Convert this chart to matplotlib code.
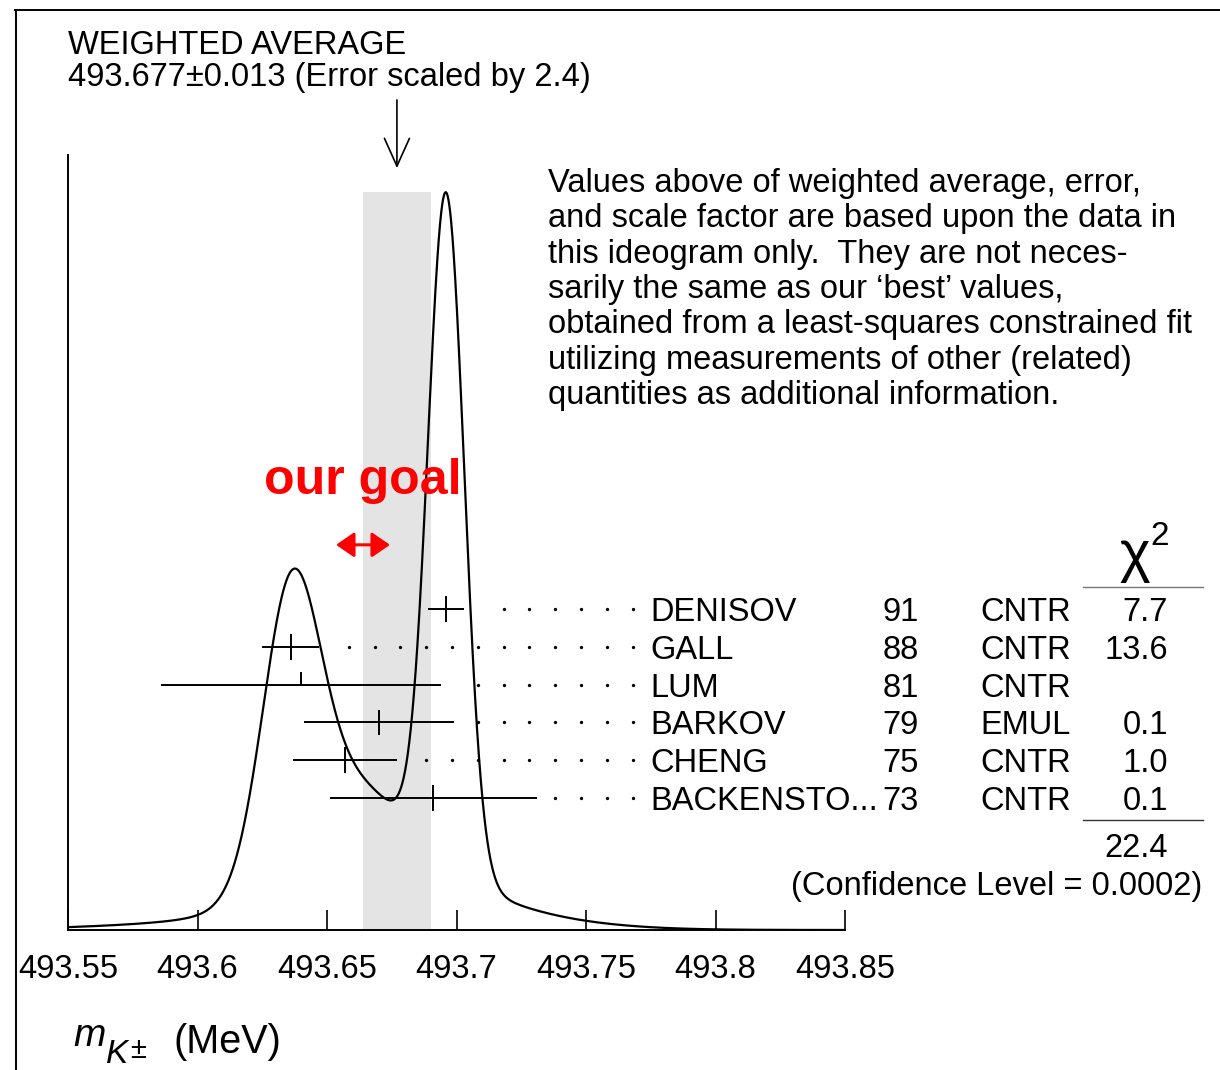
import numpy as np
import matplotlib
matplotlib.use('Agg')
import matplotlib.pyplot as plt
import matplotlib.transforms as mtransforms
from matplotlib.lines import Line2D

plt.rcParams['font.family'] = ['Liberation Sans', 'DejaVu Sans']

# measurements of the charged kaon mass (MeV)
names = ['DENISOV', 'GALL', 'LUM', 'BARKOV', 'CHENG', 'BACKENSTO...']
years = ['91', '88', '81', '79', '75', '73']
methods = ['CNTR', 'CNTR', 'CNTR', 'EMUL', 'CNTR', 'CNTR']
values = np.array([493.696, 493.636, 493.640, 493.670, 493.657, 493.691])
errors = np.array([0.007, 0.011, 0.054, 0.029, 0.020, 0.040])
chi2 = ['7.7', '13.6', '', '0.1', '1.0', '0.1']
used = [True, True, False, True, True, True]

avg, avg_err, scale = 493.677, 0.013, 2.4
chi2_total = '22.4'
conf_level = '0.0002'
goal = (493.6535, 493.6743)

xticks = [493.55, 493.6, 493.65, 493.7, 493.75, 493.8, 493.85]
xticklabels = ['493.55', '493.6', '493.65', '493.7', '493.75', '493.8', '493.85']

note = ["Values above of weighted average, error,",
        "and scale factor are based upon the data in",
        "this ideogram only.  They are not neces-",
        "sarily the same as our \u2018best\u2019 values,",
        "obtained from a least-squares constrained fit",
        "utilizing measurements of other (related)",
        "quantities as additional information."]

W, H = 1220, 1070
FS = 23.5


def fx(px):
    return px / W


def fy(py):
    return 1 - py / H


fig = plt.figure(figsize=(W / 100, H / 100), dpi=100)
ax = fig.add_axes([fx(68), fy(930), (845 - 68) / W, (930 - 155) / H])

# ideogram: each measurement a gaussian of area 1/sigma
x = np.linspace(493.55, 493.85, 3000)
ideo = np.zeros_like(x)
for v, e in zip(values, errors):
    ideo += np.exp(-0.5 * ((x - v) / e) ** 2) / (e * e * np.sqrt(2 * np.pi))

ax.fill_between([avg - avg_err, avg + avg_err], 0, ideo.max(),
                color='#e4e4e4', lw=0, zorder=0)
ax.plot(x, ideo, color='k', lw=1.6, zorder=3)
ax.set_xlim(493.55, 493.85)
ax.set_ylim(0, ideo.max() / 0.952)
ax.set_yticks([])
ax.set_xticks(xticks)
ax.set_xticklabels(xticklabels, fontsize=FS)
ax.tick_params(axis='x', direction='in', length=14.5, width=1.2, pad=17)
for s in ['top', 'right']:
    ax.spines[s].set_visible(False)
for s in ['left', 'bottom']:
    ax.spines[s].set_linewidth(1.4)

# arrow pointing at the average
ax.annotate('', xy=(avg, 0.983), xycoords=('data', 'axes fraction'),
            xytext=(avg, 1.071), textcoords=('data', 'axes fraction'),
            arrowprops=dict(arrowstyle='->,head_length=1.0,head_width=0.45',
                            mutation_scale=20, lw=1.2, color='k',
                            shrinkA=0, shrinkB=0), annotation_clip=False)

# our goal
ax.text(np.mean(goal), 0.580, 'our goal', transform=ax.get_xaxis_transform(),
        color='red', fontsize=36, fontweight='bold', ha='center', va='center')
ax.annotate('', xy=(goal[0], 0.497), xycoords=('data', 'axes fraction'),
            xytext=(goal[1], 0.497), textcoords=('data', 'axes fraction'),
            arrowprops=dict(arrowstyle='<|-|>,head_length=0.55,head_width=0.38',
                            mutation_scale=20, lw=2.2, color='red',
                            shrinkA=0, shrinkB=0))

# measurement rows
ax2 = fig.add_axes(ax.get_position(), sharex=ax)
ax2.patch.set_visible(False)
ax2.axis('off')
ax2.set_ylim((930 - 609) / 37.8, (155 - 609) / 37.8)
rows = np.arange(len(names))
ax2.hlines(rows, values - errors, values + errors, color='k', lw=1.4)
for r, v, u in zip(rows, values, used):
    ax2.vlines(v, r - 0.34, r + 0.34 if u else r, color='k', lw=1.4)

dot_grid = 493.768 - 0.00996 * np.arange(0, 20)
for r, v, e in zip(rows, values, errors):
    d = dot_grid[dot_grid > v + e + 0.006]
    ax2.plot(d, np.full_like(d, r), ls='none', marker='o', ms=2.4,
             color='k', mec='none')

trow = mtransforms.blended_transform_factory(fig.transFigure, ax2.transData)
for r, n, yv, m, c in zip(rows, names, years, methods, chi2):
    yb = r + 0.32
    ax2.text(fx(650), yb, n, transform=trow, fontsize=FS, va='baseline')
    ax2.text(fx(919), yb, yv, transform=trow, fontsize=FS, va='baseline', ha='right')
    ax2.text(fx(980), yb, m, transform=trow, fontsize=FS, va='baseline')
    ax2.text(fx(1168), yb, c, transform=trow, fontsize=FS, va='baseline', ha='right')

# chi2 header and totals
fig.text(fx(1135), fy(556), '\u03c7', fontsize=42, ha='center', va='center')
fig.text(fx(1160), fy(545), '2', fontsize=24, ha='center', va='baseline')
fig.add_artist(Line2D([fx(1083), fx(1203)], [fy(587), fy(587)], color='#777777', lw=1))
fig.add_artist(Line2D([fx(1083), fx(1203)], [fy(820), fy(820)], color='#333333', lw=1))
fig.text(fx(1168), fy(857), chi2_total, fontsize=FS, ha='right', va='baseline')
fig.text(fx(1202), fy(895), '(Confidence Level = %s)' % conf_level,
         fontsize=FS, ha='right', va='baseline')

# header
fig.text(fx(68), fy(54), 'WEIGHTED AVERAGE', fontsize=FS, va='baseline')
fig.text(fx(68), fy(86), '%.3f\u00b1%.3f (Error scaled by %.1f)' % (avg, avg_err, scale),
         fontsize=FS, va='baseline')

for i, line in enumerate(note):
    fig.text(fx(548), fy(192 + 35.3 * i), line, fontsize=FS, va='baseline')

# axis label: m with subscript K±
fig.text(fx(73), fy(1046), 'm', fontsize=28, style='italic', va='baseline')
fig.text(fx(106), fy(1063), 'K', fontsize=24, style='italic', va='baseline')
fig.text(fx(130), fy(1058), '\u00b1', fontsize=21, va='baseline')
fig.text(fx(174), fy(1053), '(MeV)', fontsize=28.5, va='baseline')

# partial frame of the page
fig.add_artist(Line2D([fx(15), 1], [fy(10), fy(10)], color='k', lw=1.4))
fig.add_artist(Line2D([fx(16), fx(16)], [fy(10), 0], color='k', lw=1.4))

fig.savefig('out.png', dpi=100)
